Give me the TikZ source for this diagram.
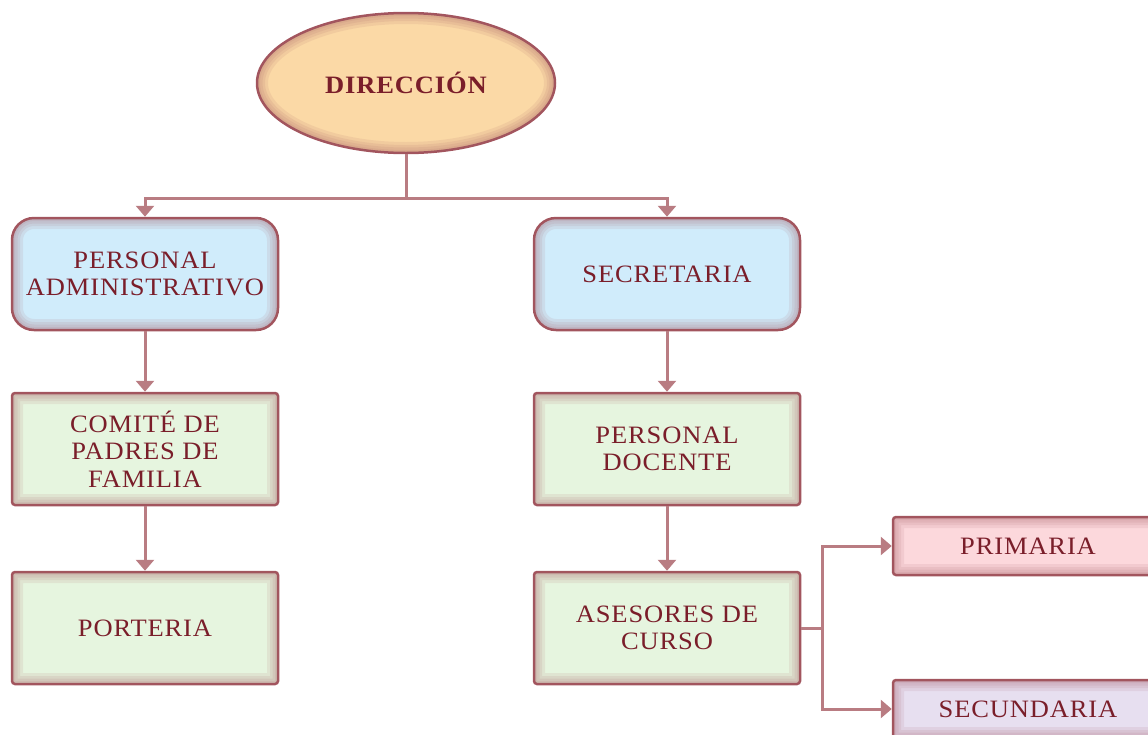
\documentclass[tikz,border=0pt]{standalone}
\usepackage{fontspec}
\setmainfont{Liberation Serif}[FakeStretch=1.06,LetterSpace=3.5]
\usetikzlibrary{shapes.geometric}
\usetikzlibrary{arrows.meta}

\definecolor{textred}{HTML}{7A1E2A}
\definecolor{edgered}{HTML}{A2555E}
\definecolor{linkred}{HTML}{B97C82}
\definecolor{peach}{HTML}{FBD9A6}
\definecolor{skyblue}{HTML}{D0ECFB}
\definecolor{mintgreen}{HTML}{E6F5DF}
\definecolor{rosepink}{HTML}{FCD8DC}
\definecolor{lilac}{HTML}{E7DFF0}

\tikzset{
  unit/.style={draw=edgered, line width=2.5pt, text=textred, align=center,
    font=\fontsize{25}{27.5}\selectfont},
  glow/.style={edgered, line width=#1, opacity=0.1},
  roundunit/.style={unit, fill=skyblue, rounded corners=22pt,
    minimum width=266pt, minimum height=112pt,
    path picture={
      \foreach \w in {22,16,11,6}
        \draw[glow=\w pt, rounded corners=22pt] (path picture bounding box.south west) rectangle (path picture bounding box.north east);
    }},
  squareunit/.style={unit, fill=mintgreen, rounded corners=3pt,
    minimum width=266pt, minimum height=112pt,
    path picture={
      \foreach \w in {22,16,11,6}
        \draw[glow=\w pt] (path picture bounding box.south west) rectangle (path picture bounding box.north east);
    }},
  levelunit/.style={squareunit, minimum width=270pt, minimum height=58pt, fill=#1},
  link/.style={draw=linkred, line width=3pt},
  >={Triangle[width=18pt,length=11pt]}
}

\begin{document}
\begin{tikzpicture}[x=1pt,y=-1pt]
\useasboundingbox (0,0) rectangle (1148,734);
\clip (0,0) rectangle (1148,734);

% top of the chart
\node[unit, ellipse, fill=peach, minimum width=298pt, minimum height=140pt,
  font=\fontsize{25}{27}\selectfont\bfseries,
  path picture={
    \foreach \w in {22,16,11,6}
      \draw[glow=\w pt] (path picture bounding box.center) ellipse [x radius=149pt, y radius=70pt];
  }] (dir) at (406,83) {DIRECCIÓN};

\node[roundunit] (padm) at (145,274) {PERSONAL\\ADMINISTRATIVO};
\node[roundunit] (secr) at (667,274) {SECRETARIA};

\node[squareunit] (comite) at (145,449) {COMITÉ DE\\PADRES DE\\FAMILIA};
\node[squareunit] (docente) at (667,449) {PERSONAL\\DOCENTE};

\node[squareunit] (porteria) at (145,628) {PORTERIA};
\node[squareunit] (asesores) at (667,628) {ASESORES DE\\CURSO};

\node[levelunit=rosepink] (primaria) at (1028,546) {PRIMARIA};
\node[levelunit=lilac] (secundaria) at (1028,709) {SECUNDARIA};

% connectors
\coordinate (split) at (406,198);
\coordinate (fork) at (822,628);

\draw[link] (dir.south) -- (split);
\draw[link,->] (split) -| (padm.north);
\draw[link,->] (split) -| (secr.north);

\draw[link,->] (padm.south) -- (comite.north);
\draw[link,->] (comite.south) -- (porteria.north);
\draw[link,->] (secr.south) -- (docente.north);
\draw[link,->] (docente.south) -- (asesores.north);

\draw[link] (asesores.east) -- (fork);
\draw[link,->] (fork) |- (primaria.west);
\draw[link,->] (fork) |- (secundaria.west);
\end{tikzpicture}
\end{document}
